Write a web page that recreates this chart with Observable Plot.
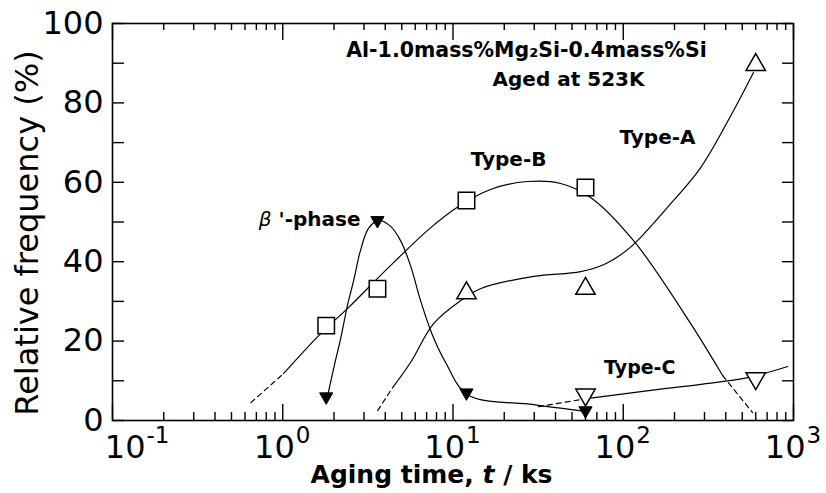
<!DOCTYPE html>
<html><head><meta charset="utf-8">
<script src="https://cdn.jsdelivr.net/npm/d3@7"></script>
<script src="https://cdn.jsdelivr.net/npm/@observablehq/plot@0.6"></script>
<style>body{margin:0;background:#fff}</style>
</head><body><div id="chart"></div>
<script>
// ---- data ----
const xMajor = [0.1, 1, 10, 100, 1000];
const xExp = ["-1", "0", "1", "2", "3"];
const yLabels = [0, 20, 40, 60, 80, 100];
const yTicksAll = [0, 10, 20, 30, 40, 50, 60, 70, 80, 90, 100];
const xMinor = [];
for (const dec of [0.1, 1, 10, 100]) for (let m = 2; m <= 9; m++) xMinor.push(+(dec * m).toPrecision(3));

// measured points [t (ks), relative frequency (%)]
const typeBPts = [[1.8, 23.9], [3.6, 33.2], [12, 55.4], [60, 58.7]];
const typeAPts = [[12, 32.1], [60, 33.2], [600, 89.6]];
const betaPts  = [[1.8, 6.0], [3.6, 50.4], [12, 7.0], [60, 2.5]];
const typeCPts = [[60, 6.5], [600, 10.6]];

// hand-drawn guide curves
const typeBDashA = [[0.65, 4.5], [1.01, 11.8]];
const typeBCurve = [[1.01, 11.8], [1.67, 21.9], [2.44, 28.5], [4.02, 37.8], [7.1, 47.9], [10.6, 53.7], [16.6, 58.2], [27.4, 60.2], [42.9, 59.7], [64.3, 56.2], [115, 45.3], [249, 24.4], [384, 11.3]];
const typeBDashB = [[384, 11.3], [575, 2.0]];
const typeADash = [[3.61, 2.5], [4.42, 8.3]];
const typeACurve = [[4.42, 8.3], [5.63, 14.6], [7.69, 24.4], [11.1, 30.2], [14.5, 33.2], [29.8, 36.3], [56.2, 37.5], [78.8, 39.5], [110, 43.6], [182, 53.7], [285, 63.7], [445, 78.1], [583, 87.7]];
const betaCurve = [[1.83, 6.0], [2.01, 13.9], [2.19, 20.7], [2.40, 29.0], [2.61, 35.3], [2.86, 42.8], [3.19, 48.4], [3.66, 50.4], [4.30, 48.9], [4.92, 45.3], [5.63, 39.0], [6.45, 30.2], [7.59, 21.4], [9.05, 14.6], [12.2, 6.5], [29.8, 4.0], [60.1, 2.3]];
const typeCDash = [[31.8, 3.5], [61, 5.5]];
const typeCCurve = [[61, 5.5], [145, 7.6], [285, 9.1], [538, 10.8], [925, 13.6]];

const W = 826, H = 493, ML = 112, MR = 33, MT = 23, MB = 73;
const fw = W - ML - MR, fh = H - MT - MB;

const line = (data, dashed) => Plot.line(data, {
  x: d => d[0], y: d => d[1], curve: "catmull-rom",
  stroke: "black", strokeWidth: 1.2, strokeDasharray: dashed ? "5,4" : null
});
const label = (t, x, y, opts = {}) => Plot.text([{t, x, y}], {
  x: "x", y: "y", text: "t", fontFamily: "DejaVu Sans", fontWeight: "bold", fontSize: 20, fill: "black", ...opts
});

const xLabel = "Aging time, t / ks";
const betaLabel = "β '-phase";

const svg = Plot.plot({
  width: W, height: H,
  marginLeft: ML, marginRight: MR, marginTop: MT, marginBottom: MB,
  x: {type: "log", domain: [0.1, 1000], axis: null},
  y: {domain: [0, 100], axis: null},
  style: {fontFamily: "DejaVu Sans", background: "white", color: "black"},
  marks: [
    // ticks (inside)
    Plot.tickX(xMajor, {x: d => d, insetTop: fh - 16, strokeWidth: 1.4}),
    Plot.tickX(xMinor, {x: d => d, insetTop: fh - 8, strokeWidth: 1.4}),
    Plot.tickX(xMajor, {x: d => d, insetBottom: fh - 17, strokeWidth: 1.4}),
    Plot.tickX(xMinor, {x: d => d, insetBottom: fh - 7, strokeWidth: 1.4}),
    Plot.tickY(yTicksAll, {y: d => d, insetRight: fw - 12, strokeWidth: 1.4}),
    Plot.tickY(yTicksAll, {y: d => d, insetLeft: fw - 11, strokeWidth: 1.4}),
    Plot.frame({stroke: "black", strokeWidth: 1.6}),
    // y tick labels
    Plot.text(yLabels, {y: d => d, text: d => String(d), frameAnchor: "left", textAnchor: "end", lineAnchor: "middle", dx: -9, fontSize: 32, fill: "black"}),
    // x tick labels 10^n
    Plot.text(xMajor.slice(1), {x: d => d, text: () => "10", frameAnchor: "bottom", textAnchor: "end", lineAnchor: "middle", dx: 12, dy: 27, fontSize: 32, fill: "black"}),
    Plot.text(xMajor.slice(1), {x: d => d, text: (d, i) => xExp[i + 1], frameAnchor: "bottom", textAnchor: "start", lineAnchor: "middle", dx: 13, dy: 15, fontSize: 23, fill: "black"}),
    Plot.text(xMajor.slice(0, 1), {x: d => d, text: () => "10", frameAnchor: "bottom", textAnchor: "end", lineAnchor: "middle", dx: 33, dy: 27, fontSize: 32, fill: "black"}),
    Plot.text(xMajor.slice(0, 1), {x: d => d, text: () => xExp[0], frameAnchor: "bottom", textAnchor: "start", lineAnchor: "middle", dx: 34, dy: 15, fontSize: 23, fill: "black"}),
    // axis titles
    Plot.text([xLabel], {text: d => d, frameAnchor: "bottom", textAnchor: "middle", lineAnchor: "middle", dx: 431 - (ML + fw / 2), dy: 54, fontSize: 25, fontWeight: "bold", fill: "black"}),
    Plot.text(["Relative frequency (%)"], {text: d => d, frameAnchor: "left", textAnchor: "middle", lineAnchor: "middle", rotate: -90, dx: 27 - ML, dy: 11, fontSize: 32, fill: "black"}),
    // curves
    line(typeBDashA, true), line(typeBCurve, false), line(typeBDashB, true),
    line(typeADash, true), line(typeACurve, false),
    line(betaCurve, false),
    line(typeCDash, true), line(typeCCurve, false),
    // markers
    Plot.dot(typeBPts, {x: d => d[0], y: d => d[1], symbol: "square", r: 9.3, fill: "white", stroke: "black", strokeWidth: 1.5}),
    Plot.dot(typeAPts, {x: d => d[0], y: d => d[1], symbol: "triangle", r: 7.2, fill: "white", stroke: "black", strokeWidth: 1.5}),
    Plot.dot(typeCPts, {x: d => d[0], y: d => d[1], symbol: "triangle", r: 7.2, rotate: 180, fill: "white", stroke: "black", strokeWidth: 1.5}),
    Plot.dot(betaPts, {x: d => d[0], y: d => d[1], symbol: "triangle2", r: 6.3, rotate: 180, fill: "black", stroke: "black", strokeWidth: 1}),
    // annotations
    label("Al-1.0mass%Mg₂Si-0.4mass%Si", 27.0, 93.2, {fontSize: 20.5}),
    label("Aged at 523K", 47.7, 85.9),
    label("Type-B", 21.2, 65.7),
    label("Type-A", 159, 71.3),
    label("Type-C", 125, 13.3, {fontSize: 19}),
    label(betaLabel, 2.86, 50.6, {textAnchor: "end"})
  ]
});

// italic parts of the titles
svg.querySelectorAll("text").forEach(el => {
  const s = el.textContent;
  if (s === xLabel) {
    el.textContent = "";
    const parts = [["Aging time, ", null], ["t", "italic"], [" / ks", null]];
    for (const [txt, st] of parts) {
      const ts = document.createElementNS("http://www.w3.org/2000/svg", "tspan");
      ts.textContent = txt;
      if (st) ts.setAttribute("font-style", st);
      el.appendChild(ts);
    }
  } else if (s === betaLabel) {
    el.textContent = "";
    const parts = [["β", "italic"], [" '-phase", null]];
    for (const [txt, st] of parts) {
      const ts = document.createElementNS("http://www.w3.org/2000/svg", "tspan");
      ts.textContent = txt;
      if (st) { ts.setAttribute("font-style", st); ts.setAttribute("font-weight", "normal"); }
      el.appendChild(ts);
    }
  }
});

document.getElementById("chart").appendChild(svg);
</script>
</body></html>
